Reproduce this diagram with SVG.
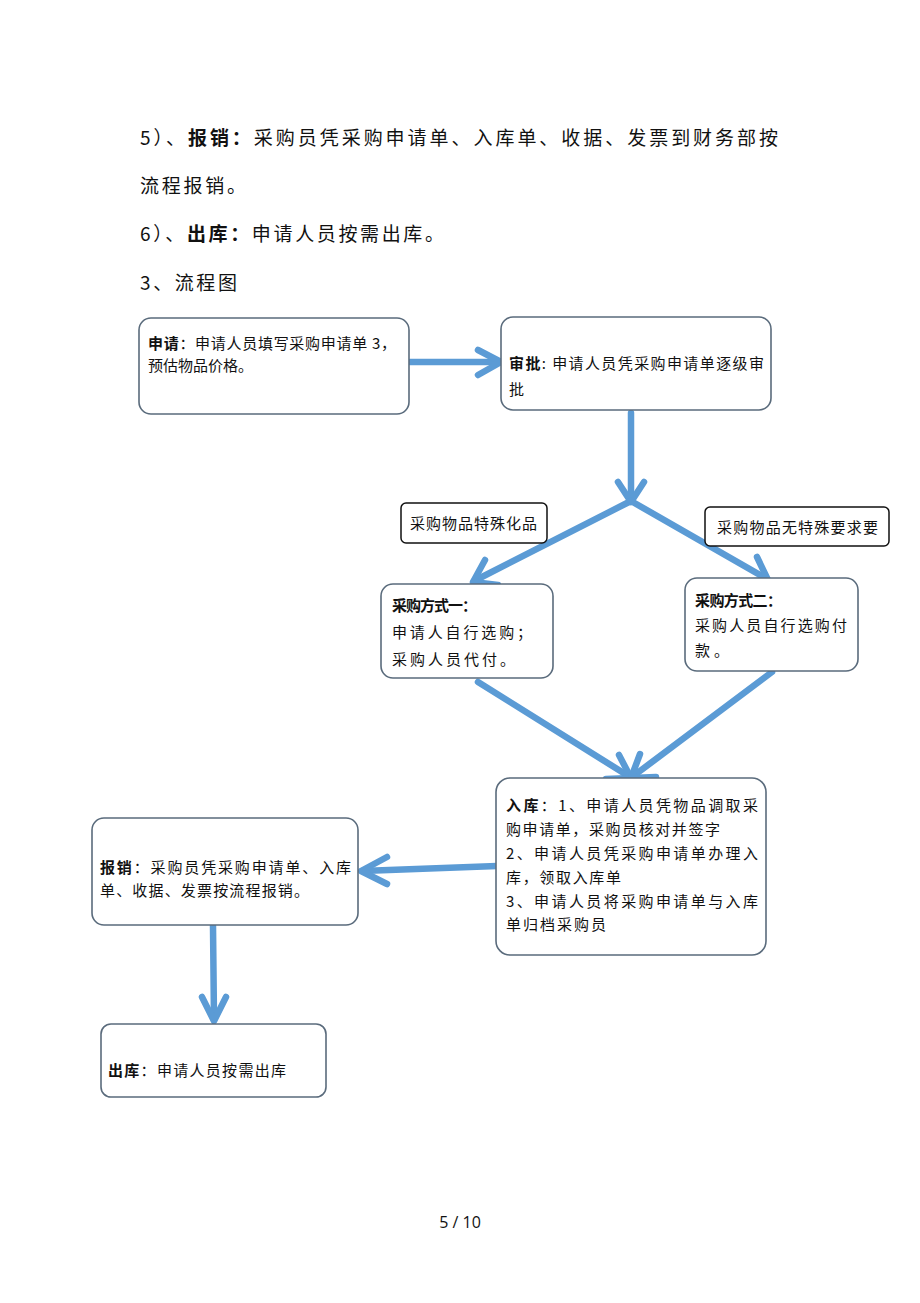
<svg xmlns="http://www.w3.org/2000/svg" width="920" height="1303" viewBox="0 0 920 1303">
<style>
text{font-family:"Noto Sans CJK SC","Noto Sans",sans-serif;fill:#111;}
.p{font-size:19px;}
.t{font-size:15px;}
.b{font-weight:bold;}
.box{fill:#fff;stroke:#5a6b7c;stroke-width:1.6;}
.lab{fill:#fff;stroke:#111;stroke-width:1.5;}
.ar{fill:none;stroke:#5b9bd5;stroke-width:6.5;stroke-linecap:round;stroke-linejoin:round;}
.pg{font-family:"Open Sans","Liberation Sans",sans-serif;font-size:16px;}
</style>
<rect width="920" height="1303" fill="#fff"/>
<g id="intro">
<text class="p" x="140" y="145" textLength="638" lengthAdjust="spacing">5）、<tspan class="b">报销：</tspan>采购员凭采购申请单、入库单、收据、发票到财务部按</text>
<text class="p" x="140" y="193" textLength="106" lengthAdjust="spacing">流程报销。</text>
<text class="p" x="140" y="241" textLength="304" lengthAdjust="spacing">6）、<tspan class="b">出库：</tspan>申请人员按需出库。</text>
<text class="p" x="140" y="290" textLength="97" lengthAdjust="spacing">3、流程图</text>
</g>
<g id="connectors">
<line class="ar" x1="410" y1="362" x2="500" y2="362"/>
<polyline class="ar" points="478,350 501,362 478,375"/>
<line class="ar" x1="631" y1="413" x2="631" y2="501"/>
<polyline class="ar" points="618,482 631,502 644,482"/>
<line class="ar" x1="631" y1="501" x2="474" y2="581"/>
<polyline class="ar" points="485,560 473,582 498,585"/>
<line class="ar" x1="631" y1="501" x2="767" y2="579"/>
<polyline class="ar" points="757,557 768,580 743,582"/>
<line class="ar" x1="478" y1="682" x2="630" y2="777"/>
<polyline class="ar" points="619,755 631,778 606,779"/>
<line class="ar" x1="772" y1="672" x2="632" y2="777"/>
<polyline class="ar" points="640,754 631,778 656,777"/>
<line class="ar" x1="497" y1="866" x2="362" y2="871"/>
<polyline class="ar" points="387,857 361,871 387,884"/>
<line class="ar" x1="213" y1="926" x2="214" y2="1019"/>
<polyline class="ar" points="202,997 214,1021 226,997"/>
</g>
<g id="n-apply">
<rect class="box" x="139" y="318" width="270" height="96" rx="12"/>
<text class="t" x="148" y="349" textLength="248" lengthAdjust="spacing"><tspan class="b">申请</tspan>：申请人员填写采购申请单 3，</text>
<text class="t" x="148" y="371">预估物品价格。</text>
</g>
<g id="n-approve">
<rect class="box" x="501" y="317" width="270" height="93" rx="12"/>
<text class="t" x="509" y="369" textLength="255" lengthAdjust="spacing"><tspan class="b">审批</tspan>: 申请人员凭采购申请单逐级审</text>
<text class="t" x="509" y="395">批</text>
</g>
<g id="l-special">
<rect class="lab" x="401" y="503" width="146" height="40" rx="5"/>
<text class="t" x="410" y="529" textLength="127" lengthAdjust="spacing">采购物品特殊化品</text>
</g>
<g id="l-normal">
<rect class="lab" x="705" y="507" width="184" height="39" rx="5"/>
<text class="t" x="717" y="533" textLength="161" lengthAdjust="spacing">采购物品无特殊要求要</text>
</g>
<g id="n-way1">
<rect class="box" x="381" y="584" width="172" height="94" rx="12"/>
<text class="t b" x="392" y="611" textLength="85" lengthAdjust="spacing">采购方式一：</text>
<text class="t" x="392" y="638" textLength="140" lengthAdjust="spacing">申请人自行选购；</text>
<text class="t" x="392" y="665" textLength="123" lengthAdjust="spacing">采购人员代付。</text>
</g>
<g id="n-way2">
<rect class="box" x="685" y="578" width="173" height="93" rx="12"/>
<text class="t b" x="695" y="606" textLength="87" lengthAdjust="spacing">采购方式二：</text>
<text class="t" x="695" y="631" textLength="152" lengthAdjust="spacing">采购人员自行选购付</text>
<text class="t" x="695" y="656" textLength="34" lengthAdjust="spacing">款。</text>
</g>
<g id="n-stock">
<rect class="box" x="496" y="778" width="270" height="177" rx="14"/>
<text class="t" x="506" y="811" textLength="252" lengthAdjust="spacing"><tspan class="b">入库</tspan>：1、申请人员凭物品调取采</text>
<text class="t" x="506" y="835" textLength="214" lengthAdjust="spacing">购申请单，采购员核对并签字</text>
<text class="t" x="506" y="859" textLength="252" lengthAdjust="spacing">2、申请人员凭采购申请单办理入</text>
<text class="t" x="506" y="883" textLength="115" lengthAdjust="spacing">库，领取入库单</text>
<text class="t" x="506" y="907" textLength="252" lengthAdjust="spacing">3、申请人员将采购申请单与入库</text>
<text class="t" x="506" y="930" textLength="100" lengthAdjust="spacing">单归档采购员</text>
</g>
<g id="n-reimburse">
<rect class="box" x="92" y="818" width="266" height="107" rx="12"/>
<text class="t" x="100" y="873" textLength="251" lengthAdjust="spacing"><tspan class="b">报销</tspan>：采购员凭采购申请单、入库</text>
<text class="t" x="100" y="896" textLength="209" lengthAdjust="spacing">单、收据、发票按流程报销。</text>
</g>
<g id="n-out">
<rect class="box" x="101" y="1024" width="225" height="73" rx="10"/>
<text class="t" x="108" y="1076" textLength="178" lengthAdjust="spacing"><tspan class="b">出库</tspan>：申请人员按需出库</text>
</g>
<text class="pg" x="460" y="1228" text-anchor="middle">5 / 10</text>
</svg>
